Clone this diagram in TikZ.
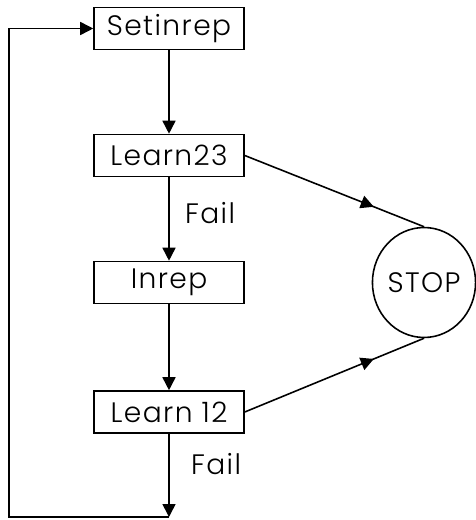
\documentclass[tikz,border=0pt]{standalone}
\usepackage{fontspec}
\setmainfont{Poppins}[UprightFont=* Light, LetterSpace=5]
\usetikzlibrary{positioning}
\usetikzlibrary{shapes,arrows.meta,decorations.markings}

\begin{document}
\begin{tikzpicture}[x=0.02cm,y=-0.02cm]
\tikzstyle{proc}=[rectangle, minimum width=3cm, minimum height=0.84cm, line width=0.9pt, draw=black, font=\fontsize{16}{18}\selectfont]
\tikzstyle{halt}=[ellipse, minimum width=1.92cm, minimum height=2.2cm, inner sep=0pt, line width=0.9pt, draw=black, font=\fontsize{16}{18}\selectfont]
\tikzstyle{lab}=[font=\fontsize{16}{18}\selectfont]
\tikzstyle{connect}=[-{Triangle[length=2.6mm,width=2.6mm]}, line width=0.9pt]
\tikzstyle{midarrow}=[line width=0.9pt, postaction=decorate,
  decoration={markings, mark=at position 0.72 with {\arrow{Triangle[length=2.6mm,width=2.6mm]}}}]
\useasboundingbox (0,0) rectangle (476,520);
	\node[proc] (setinrep) at (169,28.5) {Setinrep};
	\node[proc] (learn23) at (169,155.5) {Learn23};
	\node[proc] (inrep) at (169,282.5) {Inrep};
	\node[proc] (learn12) at (169,412) {Learn 12};
	\node[halt] (stop) at (424,282.5) {STOP};
	\node[lab] (fail1) at (210,213) {Fail};
	\node[lab] (fail2) at (216,464) {Fail};
	\coordinate (loopend) at (169,517);
	\coordinate (loopleft) at (9,517);

	\path
		(setinrep) edge [connect] (learn23)
		(learn23) edge [connect] (inrep)
		(inrep) edge [connect] (learn12)
		(learn12) edge [connect] (loopend);
	\draw[connect] (loopend) -- (loopleft) |- (setinrep);
	\draw[midarrow] (learn23.east) -- (stop.north);
	\draw[midarrow] (learn12.east) -- (stop.south);
\end{tikzpicture}
\end{document}
